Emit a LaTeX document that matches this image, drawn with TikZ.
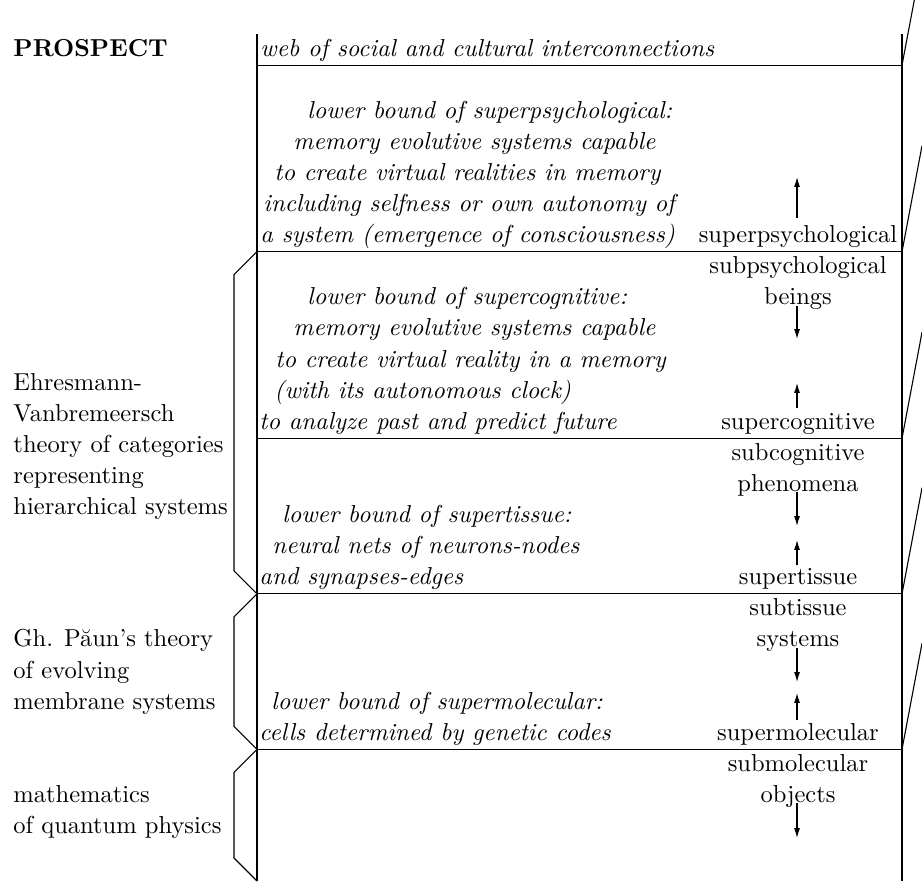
\documentclass[tikz,border=0pt]{standalone}
\usetikzlibrary{arrows.meta}
\begin{document}
\begin{tikzpicture}[x=0.408pt,y=-0.408pt,
  txt/.style={inner sep=0pt, anchor=base west, font=\fontsize{10}{12}\selectfont},
  itx/.style={inner sep=0pt, anchor=base west, font=\fontsize{10}{12}\selectfont\itshape},
  rc/.style={inner sep=0pt, anchor=base, font=\fontsize{10}{12}\selectfont},
  rule/.style={line width=0.45pt},
  arr/.style={line width=0.45pt, -{Latex[length=4pt,width=2.4pt]}}]
\useasboundingbox (0,0) rectangle (922,881);

% frame
\coordinate (LT) at (257,34);  \coordinate (LB) at (257,881);
\coordinate (RT) at (902,34);  \coordinate (RB) at (902,881);
\draw[rule] (LT) -- (LB);
\draw[rule] (RT) -- (RB);
\foreach \k/\y in {1/65.1, 2/251.7, 3/438.3, 4/593.8, 5/749.3}{
  \coordinate (hl\k) at (257,\y);
  \coordinate (hr\k) at (902,\y);
  \draw[rule] (hl\k) -- (hr\k);
}
% slanted lines at the right
\coordinate (s1) at (914.3,0);
\coordinate (s2) at (922,145.7);
\coordinate (s3) at (922,332.3);
\coordinate (s4) at (922,487.8);
\coordinate (s5) at (922,643.3);
\foreach \k in {1,...,5}{ \draw[rule] (hr\k) -- (s\k); }

% left brackets
\draw[rule] (hl2) -- (234,274.7) -- (234,570.8) -- (hl4);
\draw[rule] (hl4) -- (234,616.8) -- (234,726.3) -- (hl5);
\draw[rule] (hl5) -- (234,772.3) -- (234,858) -- (LB);

% left column
\node[txt] (prospect) at (13,56) {\bfseries PROSPECT};
\node[txt] (eh1) at (13,390) {Ehresmann-};
\node[txt] (eh2) at (13,421.1) {Vanbremeersch};
\node[txt] (eh3) at (13,452.2) {theory of categories};
\node[txt] (eh4) at (13,483.3) {representing};
\node[txt] (eh5) at (13,514.4) {hierarchical systems};
\node[txt] (pa1) at (13,646.9) {Gh. Păun’s theory};
\node[txt] (pa2) at (13,678) {of evolving};
\node[txt] (pa3) at (13,709.1) {membrane systems};
\node[txt] (ma1) at (13,802.4) {mathematics};
\node[txt] (ma2) at (13,833.5) {of quantum physics};

% middle column
\node[itx] (web) at (260,56) {web of social and cultural interconnections};
\node[itx] (b2a) at (307,118.2) {lower bound of superpsychological:};
\node[itx] (b2b) at (293,149.3) {memory evolutive systems capable};
\node[itx] (b2c) at (274,180.4) {to create virtual realities in memory};
\node[itx] (b2d) at (263,211.5) {including selfness or own autonomy of};
\node[itx] (b2e) at (260,242.6) {a system (emergence of consciousness)};
\node[itx] (b3a) at (307,304.8) {lower bound of supercognitive:};
\node[itx] (b3b) at (293,335.9) {memory evolutive systems capable};
\node[itx] (b3c) at (275,367) {to create virtual reality in a memory};
\node[itx] (b3d) at (274,398.1) {(with its autonomous clock)};
\node[itx] (b3e) at (259,429.2) {to analyze past and predict future};
\node[itx] (b4a) at (282,522.5) {lower bound of supertissue:};
\node[itx] (b4b) at (272,553.6) {neural nets of neurons-nodes};
\node[itx] (b4c) at (259,584.7) {and synapses-edges};
\node[itx] (b5a) at (271,709.1) {lower bound of supermolecular:};
\node[itx] (b5b) at (259,740.2) {cells determined by genetic codes};

% right column
\node[rc] (r6) at (798,242.6) {superpsychological};
\node[rc] (r7) at (798,273.7) {subpsychological};
\node[rc] (r8) at (798,304.8) {beings};
\node[rc] (r12) at (798,429.2) {supercognitive};
\node[rc] (r13) at (798,460.3) {subcognitive};
\node[rc] (r14) at (798,491.4) {phenomena};
\node[rc] (r17) at (798,584.7) {supertissue};
\node[rc] (r18) at (798,615.8) {subtissue};
\node[rc] (r19) at (798,646.9) {systems};
\node[rc] (r22) at (798,740.2) {supermolecular};
\node[rc] (r23) at (798,771.3) {submolecular};
\node[rc] (r24) at (798,802.4) {objects};

% arrows
\coordinate (u2a) at (797,218);  \coordinate (u2b) at (797,177);
\coordinate (d3a) at (797,306);  \coordinate (d3b) at (797,339);
\coordinate (u3a) at (797,408);  \coordinate (u3b) at (797,383);
\coordinate (d4a) at (797,492);  \coordinate (d4b) at (797,526);
\coordinate (u4a) at (797,565);  \coordinate (u4b) at (797,540);
\coordinate (d5a) at (797,648);  \coordinate (d5b) at (797,682);
\coordinate (u5a) at (797,720);  \coordinate (u5b) at (797,693);
\coordinate (d6a) at (797,803);  \coordinate (d6b) at (797,838);
\foreach \a/\b in {u2a/u2b, d3a/d3b, u3a/u3b, d4a/d4b, u4a/u4b, d5a/d5b, u5a/u5b, d6a/d6b}{
  \draw[arr] (\a) -- (\b);
}
\end{tikzpicture}
\end{document}
